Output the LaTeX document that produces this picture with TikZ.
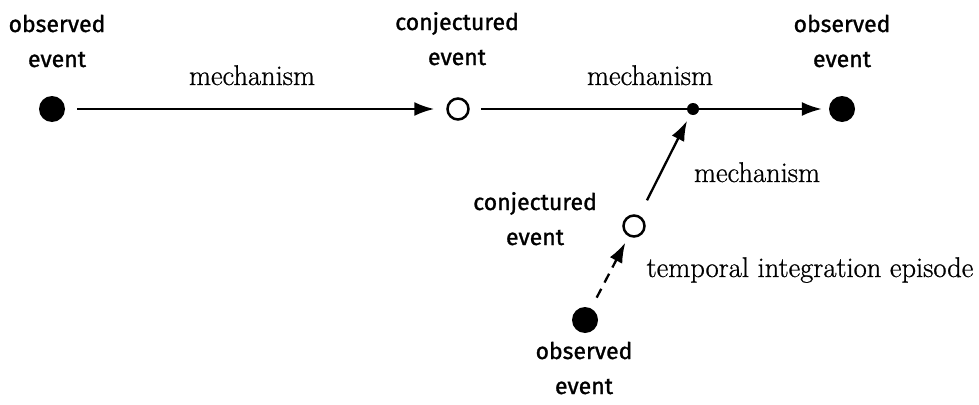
\documentclass[tikz,border=0pt]{standalone}
\usepackage{fontspec}
\setsansfont{Fira Sans}[FakeBold=1.2]
\setmainfont{Latin Modern Roman}[FakeBold=0.8]
\usetikzlibrary{arrows.meta}
\begin{document}
\begin{tikzpicture}[x=1pt,y=-1pt,
  obs/.style={circle,fill=black,inner sep=0pt,minimum size=26pt},
  conj/.style={circle,draw=black,line width=2.5pt,fill=white,inner sep=0pt,minimum size=21pt},
  joint/.style={circle,fill=black,inner sep=0pt,minimum size=12pt},
  conn/.style={line width=2.3pt},
  arr/.style={conn,-{Latex[length=20pt,width=14pt]}},
  sanslab/.style={font=\sffamily\fontsize{23}{35}\selectfont,align=center,anchor=base,inner sep=0pt},
  serlab/.style={font=\rmfamily\fontsize{28.5}{30}\selectfont,anchor=base,inner sep=0pt}]
\useasboundingbox (0,0) rectangle (979,404);
% event nodes
\node[obs]   (A) at (52,109) {};
\node[conj]  (B) at (458,109) {};
\node[joint] (M) at (693,109) {};
\node[obs]   (C) at (842,109) {};
\node[conj]  (D) at (634,226) {};
\node[obs]   (E) at (585,320) {};
% connectors
\draw[arr] (A) -- (B) [shorten <=12pt, shorten >=12pt];
\draw[conn,shorten <=11pt] (B) -- (M);
\draw[arr,shorten >=7pt] (M) -- (C);
\draw[arr,shorten <=17pt,shorten >=7pt] (D) -- (M);
\draw[arr,dash pattern=on 10pt off 7pt,shorten <=12pt,shorten >=7pt] (E) -- (D);
% labels
\node[sanslab] (tA) at (57,67) {observed\\event};
\node[sanslab] (tB) at (457,65) {conjectured\\event};
\node[sanslab] (tC) at (842,67) {observed\\event};
\node[sanslab] (tD) at (535,245) {conjectured\\event};
\node[sanslab] (tE) at (584,394) {observed\\event};
\node[serlab] (m1) at (252,85) {mechanism};
\node[serlab] (m2) at (650,85) {mechanism};
\node[serlab] (m3) at (757,182) {mechanism};
\node[serlab] (te) at (810,277) {temporal integration episode};
\end{tikzpicture}
\end{document}
